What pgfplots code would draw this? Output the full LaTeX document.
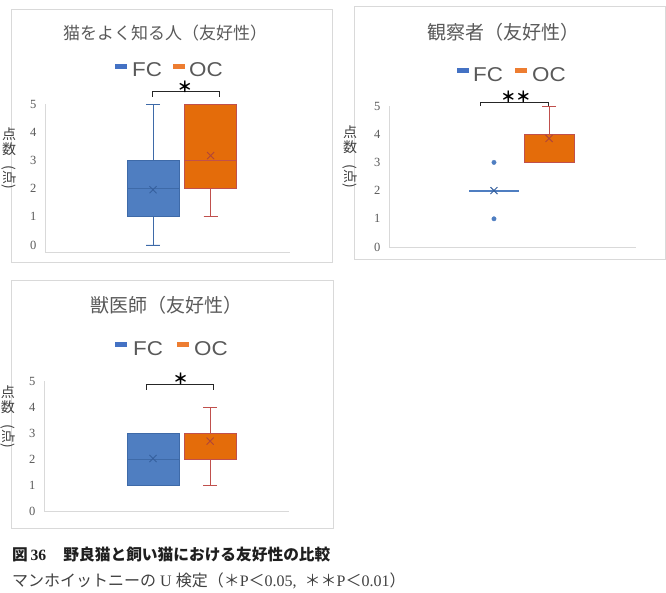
\documentclass[border=0pt]{standalone}
\usepackage{pgfplots}
\pgfplotsset{compat=1.18}
\usepgfplotslibrary{statistics}
\usepackage{graphicx}
\usepackage{fontspec}
\setmainfont{Liberation Serif}
\newfontfamily\jp{Noto Sans CJK JP}
\newfontfamily\legfont[FakeStretch=1.12]{Liberation Sans}
\definecolor{fcfill}{HTML}{4F7EC1}
\definecolor{fcedge}{HTML}{3E6AA8}
\definecolor{fcmeanc}{HTML}{36609E}
\definecolor{ocfill}{HTML}{E46C0A}
\definecolor{ocedge}{HTML}{C0504D}
\definecolor{ocmeanc}{HTML}{B0453A}
\definecolor{txtgray}{HTML}{595959}
\definecolor{labgray}{HTML}{404040}
\definecolor{framegray}{HTML}{D9D9D9}
\definecolor{legfc}{HTML}{4472C4}
\definecolor{legoc}{HTML}{ED7D31}
\pgfplotsset{
  panel/.style={scale only axis, xmin=0, xmax=1, ymax=5,
    axis x line=bottom, axis y line=left,
    axis line style={draw=framegray, line width=0.8pt, -},
    xtick=\empty, ytick={0,1,2,3,4,5}, major tick length=0pt,
    tick label style={font=\fontsize{12.5}{12.5}\selectfont, text=txtgray},
    /pgf/number format/assume math mode=true,
    yticklabel style={xshift=-5pt},
    boxplot/draw direction=y,
    clip=false},
  fcbox/.style={fill=fcfill, draw=fcedge, line width=0.8pt},
  ocbox/.style={fill=ocfill, draw=ocedge, line width=0.8pt},
  fcmean/.style={only marks, mark=x, mark size=5pt, draw=fcmeanc, line width=0.9pt},
  ocmean/.style={only marks, mark=x, mark size=5pt, draw=ocmeanc, line width=0.9pt},
}
\begin{document}
\begin{tikzpicture}
\useasboundingbox (0pt,0pt) rectangle (666pt,-592pt);
\begin{scope}[x=1pt, y=1pt]
% frames
\draw[framegray, line width=0.8pt] (11,-9) rectangle (332,-262);
\draw[framegray, line width=0.8pt] (354,-6) rectangle (665,-259);
\draw[framegray, line width=0.8pt] (11,-280) rectangle (333,-528);
% panel 1 texts
\node[font=\jp\fontsize{17}{17}\selectfont, text=txtgray] at (165,-33) {猫をよく知る人（友好性）};
\fill[legfc] (115,-63.5) rectangle (127,-68.5);
\node[font=\legfont\fontsize{20}{20}\selectfont, text=txtgray, anchor=base west, inner sep=0] at (132,-76) {FC};
\fill[legoc] (173,-63.5) rectangle (185,-68.5);
\node[font=\legfont\fontsize{20}{20}\selectfont, text=txtgray, anchor=base west, inner sep=0] at (189,-76) {OC};
\begin{scope}[every node/.style={font=\jp\fontsize{14}{14}\selectfont, text=labgray, inner sep=0}]
\node at (9,-134) {点};
\node at (9,-149) {数};
\node at (9,-177) {\rotatebox{-90}{(点)}};
\end{scope}
% panel 2 texts
\node[font=\jp\fontsize{19}{19}\selectfont, text=txtgray] at (503,-32) {観察者（友好性）};
\fill[legfc] (457,-68) rectangle (469,-73);
\node[font=\legfont\fontsize{20}{20}\selectfont, text=txtgray, anchor=base west, inner sep=0] at (473,-81.5) {FC};
\fill[legoc] (515,-68) rectangle (527,-73);
\node[font=\legfont\fontsize{20}{20}\selectfont, text=txtgray, anchor=base west, inner sep=0] at (532,-81.5) {OC};
\begin{scope}[every node/.style={font=\jp\fontsize{14}{14}\selectfont, text=labgray, inner sep=0}]
\node at (350,-132) {点};
\node at (350,-147) {数};
\node at (350,-176) {\rotatebox{-90}{(点)}};
\end{scope}
% panel 3 texts
\node[font=\jp\fontsize{19}{19}\selectfont, text=txtgray] at (166,-305) {獣医師（友好性）};
\fill[legfc] (115,-342) rectangle (127,-347);
\node[font=\legfont\fontsize{20}{20}\selectfont, text=txtgray, anchor=base west, inner sep=0] at (133,-355) {FC};
\fill[legoc] (177,-342) rectangle (189,-347);
\node[font=\legfont\fontsize{20}{20}\selectfont, text=txtgray, anchor=base west, inner sep=0] at (194,-355) {OC};
\begin{scope}[every node/.style={font=\jp\fontsize{14}{14}\selectfont, text=labgray, inner sep=0}]
\node at (8,-392) {点};
\node at (8,-407) {数};
\node at (8,-436) {\rotatebox{-90}{(点)}};
\end{scope}
% caption
\node[anchor=base west, inner sep=0, text=black!88, font=\fontsize{15.7}{15.7}\selectfont] at (12,-560)
  {{\jp\bfseries 図}\,\textbf{36}\hspace{1.1em}{\jp\bfseries 野良猫と飼い猫における友好性の比較}};
\node[anchor=base west, inner sep=0, text=labgray, font=\fontsize{16}{16}\selectfont] at (12,-586)
  {{\jp マンホイットニーの} U {\jp 検定（＊}P{\jp ＜}0.05,\ \ {\jp ＊＊}P{\jp ＜}0.01{\jp ）}};
\end{scope}

% ---------- Panel 1 ----------
\begin{axis}[panel, at={(45pt,-252pt)}, anchor=south west, width=245pt, height=148pt, ymin=-0.25]
\addplot[fcbox, boxplot prepared={draw position=0.441, box extend=0.212, whisker extend=0.057,
  lower whisker=0, lower quartile=1, median=2, upper quartile=3, upper whisker=5}] coordinates {};
\addplot[ocbox, boxplot prepared={draw position=0.676, box extend=0.212, whisker extend=0.057,
  lower whisker=1, lower quartile=2, median=3, upper quartile=5, upper whisker=5}] coordinates {};
\addplot[fcmean] coordinates {(0.441,1.96)};
\addplot[ocmean] coordinates {(0.676,3.17)};
\draw[black!85, line width=0.8pt] (axis cs:0.437,5.25) -- (axis cs:0.437,5.44) -- (axis cs:0.710,5.44) -- (axis cs:0.710,5.25);
\node[font=\jp\bfseries\fontsize{15}{15}\selectfont, inner sep=0] at (axis cs:0.571,5.6) {＊};
\end{axis}

% ---------- Panel 2 ----------
\begin{axis}[panel, at={(389pt,-247pt)}, anchor=south west, width=247pt, height=141pt, ymin=0]
\addplot[fill=fcfill, draw=fcfill, line width=1.8pt, mark=*, mark size=2.2pt, mark options={fill=fcfill, draw=fcfill, line width=0.4pt},
  boxplot prepared={draw position=0.425, box extend=0.202, whisker extend=0.057,
  lower whisker=2, lower quartile=2, median=2, upper quartile=2, upper whisker=2}]
  table[row sep=\\, y index=0] {3\\1\\};
\addplot[ocbox, boxplot prepared={draw position=0.648, box extend=0.202, whisker extend=0.057,
  lower whisker=3, lower quartile=3, median=4, upper quartile=4, upper whisker=5}] coordinates {};
\addplot[fcmean] coordinates {(0.425,2)};
\addplot[ocmean] coordinates {(0.648,3.85)};
\draw[black!85, line width=0.8pt] (axis cs:0.372,5.0) -- (axis cs:0.372,5.14) -- (axis cs:0.644,5.14) -- (axis cs:0.644,5.0);
\node[font=\jp\bfseries\fontsize{15}{15}\selectfont, inner sep=0] at (axis cs:0.514,5.34) {＊＊};
\end{axis}

% ---------- Panel 3 ----------
\begin{axis}[panel, at={(44pt,-511pt)}, anchor=south west, width=245pt, height=130pt, ymin=0]
\addplot[fcbox, boxplot prepared={draw position=0.445, box extend=0.212, whisker extend=0.057,
  lower whisker=1, lower quartile=1, median=2, upper quartile=3, upper whisker=3}] coordinates {};
\addplot[ocbox, boxplot prepared={draw position=0.678, box extend=0.212, whisker extend=0.057,
  lower whisker=1, lower quartile=2, median=3, upper quartile=3, upper whisker=4}] coordinates {};
\addplot[fcmean] coordinates {(0.445,2.02)};
\addplot[ocmean] coordinates {(0.678,2.69)};
\draw[black!85, line width=0.8pt] (axis cs:0.419,4.66) -- (axis cs:0.419,4.87) -- (axis cs:0.691,4.87) -- (axis cs:0.691,4.66);
\node[font=\jp\bfseries\fontsize{15}{15}\selectfont, inner sep=0] at (axis cs:0.558,5.1) {＊};
\end{axis}
\end{tikzpicture}
\end{document}
